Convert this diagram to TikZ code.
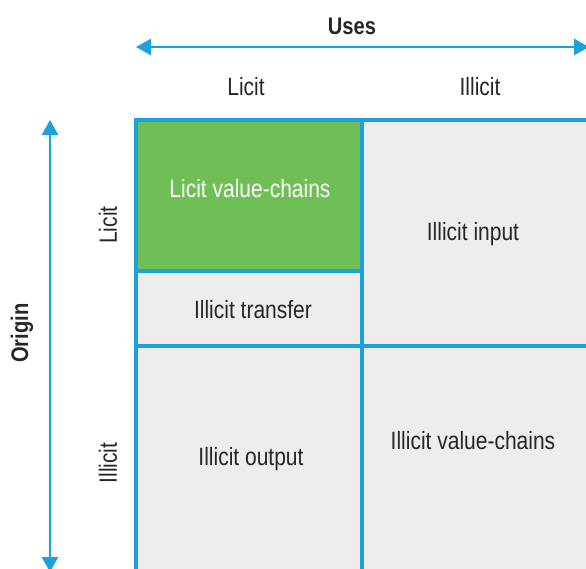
\documentclass[tikz,border=0pt]{standalone}
\usepackage{fontspec}
\setmainfont{Liberation Sans}[FakeStretch=0.84]
\usetikzlibrary{arrows.meta}
\definecolor{axisblue}{HTML}{1BA1DB}
\definecolor{cellgray}{HTML}{EDEDED}
\definecolor{cellgreen}{HTML}{70BF56}
\definecolor{txt}{HTML}{262626}
\tikzset{
  cell/.style={draw=axisblue, line width=3.5pt, fill=cellgray},
  lbl/.style={font=\fontsize{25}{29}\selectfont, text=txt, inner sep=0pt},
  bold/.style={font=\fontsize{24}{28}\selectfont\bfseries, text=txt, inner sep=0pt},
  axis/.style={draw=axisblue, line width=2.5pt, {Triangle[length=15pt,width=16pt]}-{Triangle[length=15pt,width=16pt]}}
}
\begin{document}
\begin{tikzpicture}[x=1pt,y=-1pt]
\useasboundingbox (0,0) rectangle (586,568);
% cells
\path[cell] (136,120) rectangle (362,271);
\path[cell, fill=cellgreen] (136,120) rectangle (362,271);
\path[cell] (136,271) rectangle (362,346);
\path[cell] (362,120) rectangle (600,346);
\path[cell] (136,346) rectangle (362,600);
\path[cell] (362,346) rectangle (600,600);
% axes
\coordinate (hl) at (136,47);
\coordinate (hr) at (589,47);
\draw[axis] (hl) -- (hr);
\coordinate (vt) at (50,120);
\coordinate (vb) at (50,572);
\draw[axis] (vt) -- (vb);
% headings
\node[bold] (uses) at (352,26) {Uses};
\node[bold, rotate=90] (origin) at (22,333) {Origin};
\node[lbl] (ulicit) at (246,87) {Licit};
\node[lbl] (uillicit) at (480,87) {Illicit};
\node[lbl, rotate=90] (olicit) at (108,225) {Licit};
\node[lbl, rotate=90] (oillicit) at (108,463) {Illicit};
% cell texts
\node[lbl, text=white] (lvc) at (250,189) {Licit value-chains};
\node[lbl] (it) at (253,310) {Illicit transfer};
\node[lbl] (ii) at (473,234) {Illicit input};
\node[lbl] (io) at (251,459) {Illicit output};
\node[lbl] (ivc) at (473,441) {Illicit value-chains};
\end{tikzpicture}
\end{document}
